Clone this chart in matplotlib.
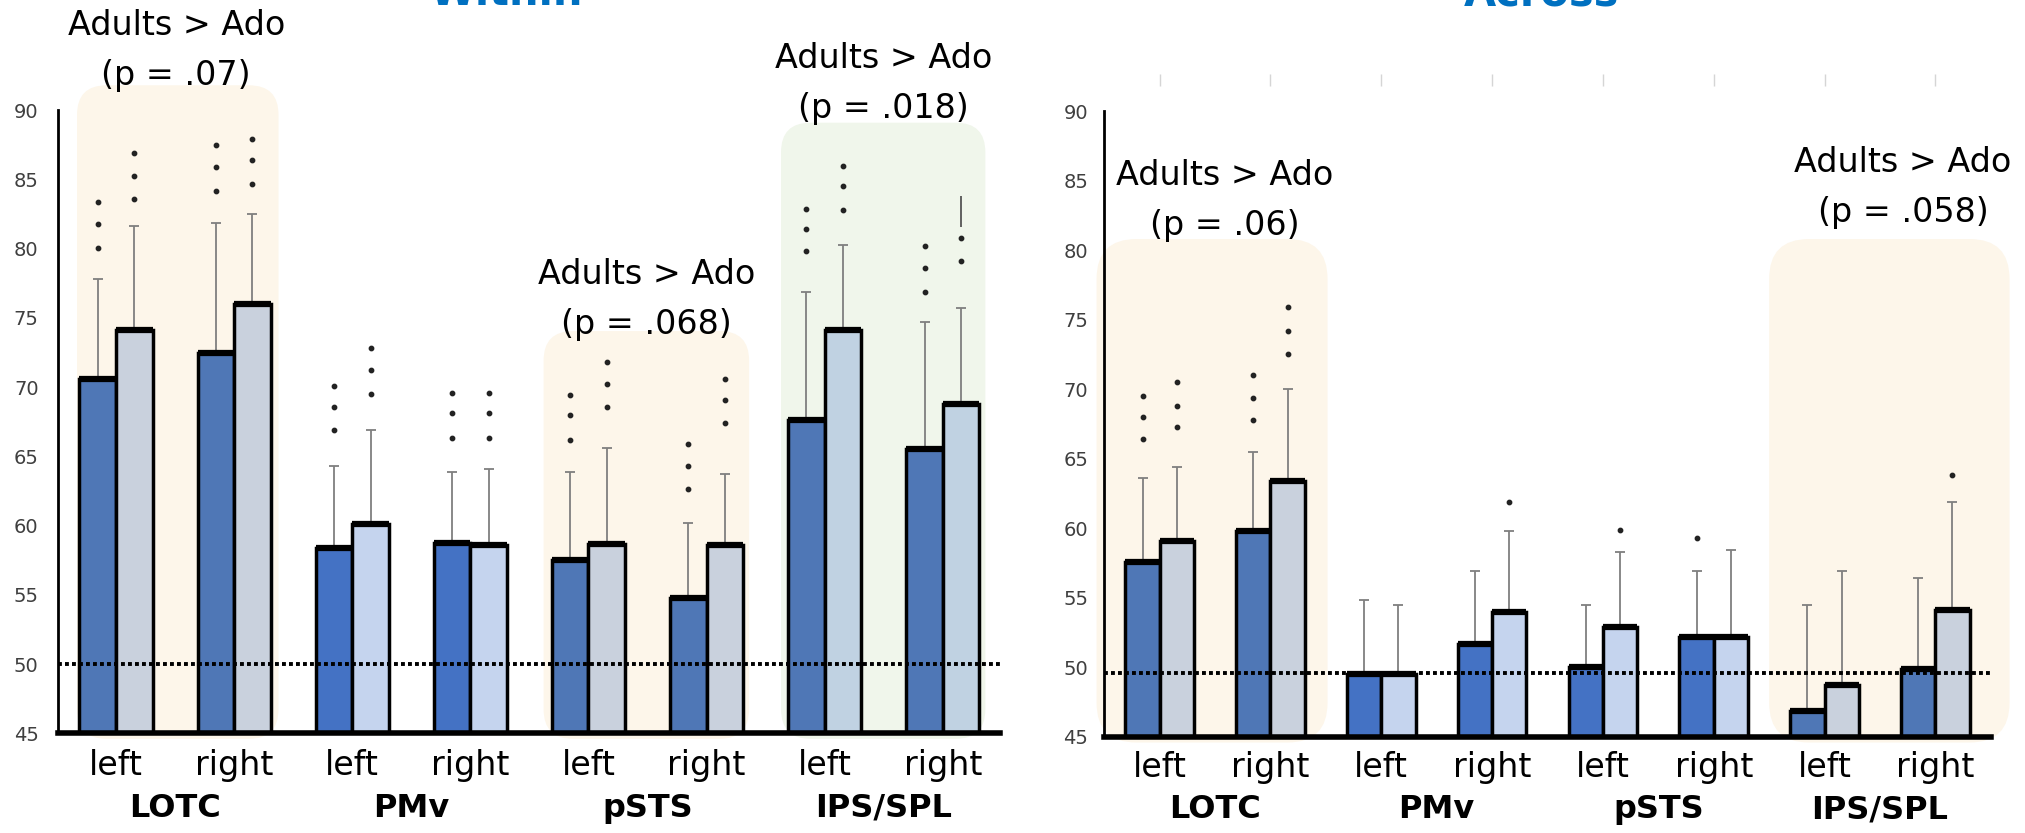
import matplotlib.pyplot as plt
import numpy as np
from matplotlib.patches import FancyBboxPatch

regions = ['LOTC', 'PMv', 'pSTS', 'IPS/SPL']
hemis = ['left', 'right'] * 4

# bar order: LOTC-L, LOTC-R, PMv-L, PMv-R, pSTS-L, pSTS-R, IPS-L, IPS-R
# dark bars = adolescents, light bars = adults
ado_within = [70.6, 72.5, 58.4, 58.75, 57.5, 54.8, 67.6, 65.5]
adults_within = [74.1, 76.0, 60.1, 58.6, 58.7, 58.6, 74.1, 68.8]
ado_within_top = [77.8, 81.85, 64.3, 63.9, 63.9, 60.2, 76.9, 74.7]
adults_within_top = [81.65, 82.5, 66.9, 64.1, 65.6, 63.7, 80.3, 75.7]
ado_within_out = [[80.05, 81.8, 83.4], [84.2, 85.9, 87.5], [66.9, 68.6, 70.1],
                  [66.3, 68.1, 69.6], [66.2, 68.0, 69.4], [62.65, 64.3, 65.9],
                  [79.8, 81.4, 82.9], [76.9, 78.6, 80.2]]
adults_within_out = [[83.6, 85.25, 86.9], [84.7, 86.4, 87.9], [69.5, 71.25, 72.8],
                     [66.3, 68.1, 69.6], [68.6, 70.2, 71.8], [67.4, 69.1, 70.6],
                     [82.8, 84.5, 86.0], [79.1, 80.8]]

ado_across = [57.6, 59.8, 49.5, 51.7, 50.0, 52.2, 46.9, 49.85]
adults_across = [59.1, 63.4, 49.5, 53.95, 52.9, 52.2, 48.7, 54.1]
ado_across_top = [63.6, 65.5, 54.85, 56.9, 54.5, 56.9, 54.5, 56.4]
adults_across_top = [64.4, 70.0, 54.5, 59.8, 58.3, 58.45, 56.9, 61.9]
ado_across_out = [[66.4, 68.0, 69.5], [67.8, 69.4, 71.0], [], [], [], [59.3], [], []]
adults_across_out = [[67.3, 68.8, 70.5], [72.5, 74.2, 75.9], [], [61.9], [59.9], [], [], [63.8]]

chance_within = 50.0
chance_across = 49.6

# colours
muted_dark, bright_dark = '#4F77B6', '#4472C4'
grey_light, blue_light, ips_light = '#C9D1DD', '#C5D4EE', '#C0D2E2'
cream, green = '#FDF6EA', '#F0F6EB'

dark_within = [muted_dark]*2 + [bright_dark]*2 + [muted_dark]*4
light_within = [grey_light]*2 + [blue_light]*2 + [grey_light]*2 + [ips_light]*2
dark_across = [muted_dark]*2 + [bright_dark]*4 + [muted_dark]*2
light_across = [grey_light]*2 + [blue_light]*4 + [grey_light]*2

plt.rcParams['font.family'] = ['DejaVu Sans']

fig = plt.figure(figsize=(20.25, 8.33), dpi=100)
ax1 = fig.add_axes([0.0287, 0.1197, 0.4649, 0.748])
ax2 = fig.add_axes([0.545, 0.1153, 0.4384, 0.7514])

x = np.arange(8)
w = 0.31


def rbox(ax, x0, x1, top, color, r):
    bb = ax.get_position()
    xl, yl = ax.get_xlim(), ax.get_ylim()
    px_x = bb.width * fig.get_figwidth() / (xl[1] - xl[0])
    px_y = bb.height * fig.get_figheight() / (yl[1] - yl[0])
    y0 = 44.6
    p = FancyBboxPatch((x0, y0), x1 - x0, top - y0,
                       boxstyle='round,pad=0,rounding_size=%s' % r,
                       mutation_aspect=px_x / px_y,
                       facecolor=color, edgecolor='none', zorder=0,
                       clip_on=False, transform=ax.transData)
    ax.add_patch(p)


def panel(ax, xlim, ado, adults, ado_top, adults_top, ado_out, adults_out,
          dark, light, chance, pad):
    ax.set_xlim(*xlim)
    ax.set_ylim(45, 90)
    xs = [x - w/2, x + w/2]
    vals = [ado, adults]
    tops = [ado_top, adults_top]
    outs = [ado_out, adults_out]
    cols = [dark, light]
    for k in range(2):
        ax.errorbar(xs[k], vals[k],
                    yerr=[np.zeros(8), np.array(tops[k]) - np.array(vals[k])],
                    fmt='none', ecolor='#7F7F7F', elinewidth=1.3,
                    capsize=3.5, capthick=1.3, zorder=1.8)
        ax.bar(xs[k], vals[k], width=w, bottom=0, color=cols[k],
               edgecolor='black', linewidth=2.5, zorder=2)
        ax.hlines(vals[k], xs[k] - w/2, xs[k] + w/2, color='black',
                  linewidth=4.5, zorder=3)
        for i, pts in enumerate(outs[k]):
            ax.scatter([xs[k][i]] * len(pts), pts, s=10, color='#222222',
                       zorder=3, clip_on=False)
    ax.axhline(chance, color='black', linestyle=(0, (1, 0.8)), linewidth=2.8,
               zorder=4)
    for s in ['top', 'right']:
        ax.spines[s].set_visible(False)
    ax.spines['left'].set_linewidth(2)
    ax.spines['bottom'].set_linewidth(4)
    ax.set_yticks(np.arange(45, 91, 5))
    ax.tick_params(axis='y', length=0, pad=pad, labelsize=14,
                   labelcolor='#3F3F3F')
    ax.set_xticks([])
    ax.set_facecolor('none')


panel(ax1, (-0.49, 7.48), ado_within, adults_within, ado_within_top,
      adults_within_top, ado_within_out, adults_within_out,
      dark_within, light_within, chance_within, 14)
panel(ax2, (-0.506, 7.506), ado_across, adults_across, ado_across_top,
      adults_across_top, ado_across_out, adults_across_out,
      dark_across, light_across, chance_across, 11)

# stray whisker fragment on IPS right (adults), within panel
ax1.vlines(7 + w/2, 81.6, 83.8, color='#555555', linewidth=1.3, zorder=3)

# highlighted regions
rbox(ax1, -0.33, 1.376, 91.8, cream, 0.25)
rbox(ax1, 3.62, 5.36, 74.05, cream, 0.25)
rbox(ax1, 5.63, 7.36, 89.1, green, 0.25)
rbox(ax2, -0.57, 1.515, 80.8, cream, 0.36)
rbox(ax2, 5.50, 7.67, 80.8, cream, 0.36)

# faint tick marks above the across panel
ax2.plot(x, [92.2] * 8, linestyle='none', marker='|', markersize=9,
         color='#D5D5D5', clip_on=False)

# x labels
for ax, y1, y2 in [(ax1, 42.7, 39.6), (ax2, 42.8, 39.75)]:
    for i in range(8):
        ax.text(x[i], y1, hemis[i], ha='center', va='center', fontsize=24)
    for j in range(4):
        ax.text(2*j + 0.5, y2, regions[j], ha='center', va='center',
                fontsize=23, weight='bold')

# significance notes
notes1 = [(0.51, 96.1, 92.5, '(p = .07)'), (4.49, 78.1, 74.5, '(p = .068)'),
          (6.50, 93.75, 90.15, '(p = .018)')]
notes2 = [(0.59, 85.4, 81.8, '(p = .06)'), (6.71, 86.3, 82.7, '(p = .058)')]
for ax, notes in [(ax1, notes1), (ax2, notes2)]:
    for xn, ya, yb, ptxt in notes:
        ax.text(xn, ya, 'Adults > Ado', ha='center', va='center',
                fontsize=24, zorder=5, clip_on=False)
        ax.text(xn, yb, ptxt, ha='center', va='center', fontsize=24,
                zorder=5, clip_on=False)

# panel titles, cut by the top edge as in the source figure
fig.text(0.25, 1 - 5/833, 'Within', ha='center', va='baseline', fontsize=30,
         weight='bold', color='#0070C0')
fig.text(0.761, 1 - 5/833, 'Across', ha='center', va='baseline', fontsize=30,
         weight='bold', color='#0070C0')

fig.savefig('out.png', dpi=100)
